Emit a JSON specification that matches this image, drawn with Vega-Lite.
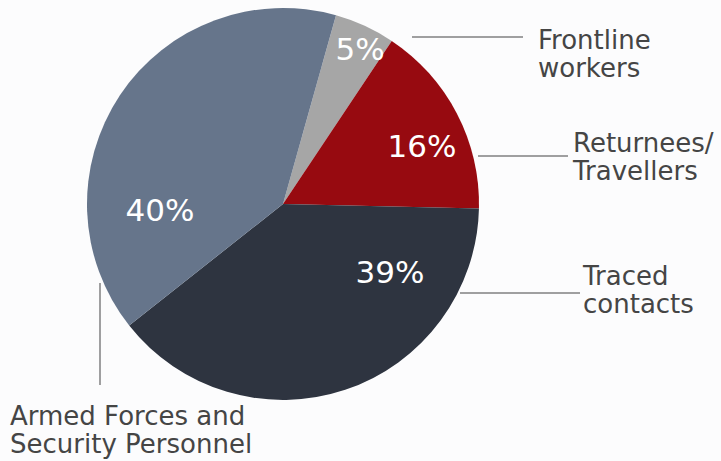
{
  "$schema": "https://vega.github.io/schema/vega-lite/v6.json",
  "autosize": {"type": "fit", "contains": "padding"},
  "width": 721,
  "height": 461,
  "padding": 0,
  "background": "#fcfcfd",
  "config": {"view": {"stroke": null}, "font": "DejaVu Sans"},
  "datasets": {
    "slices": [
      {"group": "Frontline workers", "share": 5, "rank": 1},
      {"group": "Returnees/Travellers", "share": 16, "rank": 2},
      {"group": "Traced contacts", "share": 39, "rank": 3},
      {"group": "Armed Forces and Security Personnel", "share": 40, "rank": 4}
    ],
    "pct": [
      {"label": "5%", "px": 360, "py": 60},
      {"label": "16%", "px": 422, "py": 157},
      {"label": "39%", "px": 390, "py": 283},
      {"label": "40%", "px": 160, "py": 221}
    ],
    "names": [
      {"label": "Frontline\nworkers", "px": 538, "py": 49},
      {"label": "Returnees/\nTravellers", "px": 573, "py": 152},
      {"label": "Traced\ncontacts", "px": 583, "py": 285},
      {"label": "Armed Forces and\nSecurity Personnel", "px": 10, "py": 425}
    ],
    "leaders": [
      {"xa": 412, "ya": 37, "xb": 523, "yb": 37},
      {"xa": 478, "ya": 156, "xb": 568, "yb": 156},
      {"xa": 460, "ya": 293, "xb": 580, "yb": 293},
      {"xa": 100, "ya": 283, "xb": 100, "yb": 385}
    ]
  },
  "layer": [
    {
      "data": {"name": "slices"},
      "mark": {"type": "arc", "outerRadius": 196},
      "encoding": {
        "x": {"datum": 283, "type": "quantitative", "scale": {"domain": [0, 721], "nice": false, "zero": false}, "axis": null},
        "y": {"datum": 204, "type": "quantitative", "scale": {"domain": [0, 461], "nice": false, "zero": false, "reverse": true}, "axis": null},
        "theta": {"field": "share", "type": "quantitative", "stack": true, "scale": {"range": [0.274, 6.557]}},
        "order": {"field": "rank", "type": "quantitative"},
        "color": {
          "field": "group",
          "type": "nominal",
          "legend": null,
          "scale": {
            "domain": ["Frontline workers", "Returnees/Travellers", "Traced contacts", "Armed Forces and Security Personnel"],
            "range": ["#a6a6a6", "#970a10", "#2e3440", "#66758b"]
          }
        }
      }
    },
    {
      "data": {"name": "leaders"},
      "mark": {"type": "rule", "color": "#808080", "strokeWidth": 1.5},
      "encoding": {
        "x": {"field": "xa", "type": "quantitative", "scale": {"domain": [0, 721], "nice": false, "zero": false}, "axis": null},
        "x2": {"field": "xb"},
        "y": {"field": "ya", "type": "quantitative", "scale": {"domain": [0, 461], "nice": false, "zero": false, "reverse": true}, "axis": null},
        "y2": {"field": "yb"}
      }
    },
    {
      "data": {"name": "pct"},
      "mark": {"type": "text", "color": "white", "fontSize": 31, "align": "center", "baseline": "alphabetic"},
      "encoding": {
        "x": {"field": "px", "type": "quantitative", "scale": {"domain": [0, 721], "nice": false, "zero": false}, "axis": null},
        "y": {"field": "py", "type": "quantitative", "scale": {"domain": [0, 461], "nice": false, "zero": false, "reverse": true}, "axis": null},
        "text": {"field": "label"}
      }
    },
    {
      "data": {"name": "names"},
      "mark": {"type": "text", "color": "#454545", "fontSize": 26, "align": "left", "baseline": "alphabetic", "lineBreak": "\n", "lineHeight": 28},
      "encoding": {
        "x": {"field": "px", "type": "quantitative", "scale": {"domain": [0, 721], "nice": false, "zero": false}, "axis": null},
        "y": {"field": "py", "type": "quantitative", "scale": {"domain": [0, 461], "nice": false, "zero": false, "reverse": true}, "axis": null},
        "text": {"field": "label"}
      }
    }
  ]
}
